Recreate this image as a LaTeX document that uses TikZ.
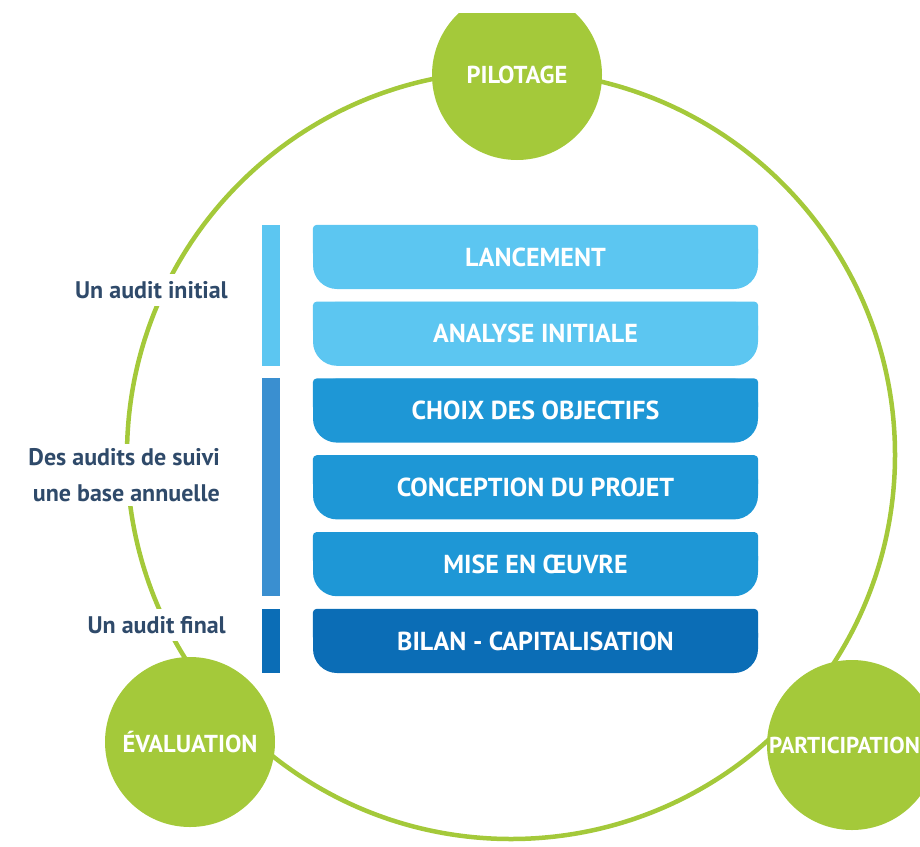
\documentclass[tikz,border=0pt]{standalone}
\usepackage{fontspec}
\setmainfont{PT Sans}
\usetikzlibrary{positioning,backgrounds}

\definecolor{ringgreen}{RGB}{164,201,58}
\definecolor{skyblue}{RGB}{92,198,241}
\definecolor{midblue}{RGB}{30,151,214}
\definecolor{barblue}{RGB}{58,143,208}
\definecolor{deepblue}{RGB}{11,109,182}
\definecolor{labelgray}{RGB}{47,74,106}

\begin{document}
\begin{tikzpicture}[x=1pt,y=-1pt,node distance=12.4pt,
    stage/.style={fill=#1,text=white,minimum width=445pt,minimum height=64pt,
                  rounded corners=24pt,font=\fontsize{26}{28}\selectfont\bfseries},
    pole/.style={circle,fill=ringgreen,minimum size=170pt,text=white,inner sep=0pt,
                 font=\fontsize{24.5}{26}\selectfont\bfseries},
    audit/.style={anchor=east,fill=white,text=labelgray,align=right,inner xsep=2pt,
                  font=\fontsize{24}{36}\selectfont\bfseries}]

  \useasboundingbox (0,0) rectangle (920,846);
  \clip (0,13) rectangle (920,846);

  % the cycle
  \draw[ringgreen,line width=4.5pt] (511,455) circle (384pt);

  \node[pole] (pil) at (517,75)  {PILOTAGE};
  \node[pole] (eva) at (190,742) {ÉVALUATION};
  \node[pole,font=\fontsize{23}{26}\selectfont\bfseries] (par) at (852,745)
       {\hspace*{-15pt}PARTICIPATION};

  % stages
  \node[stage=skyblue]  (lance) at (535.5,257) {LANCEMENT};
  \node[stage=skyblue]  (ana)  [below=of lance] {ANALYSE INITIALE};
  \node[stage=midblue]  (obj)  [below=of ana]   {CHOIX DES OBJECTIFS};
  \node[stage=midblue]  (conc) [below=of obj]   {CONCEPTION DU PROJET};
  \node[stage=midblue]  (mise) [below=of conc]  {MISE EN ŒUVRE};
  \node[stage=deepblue] (bil)  [below=of mise]  {BILAN - CAPITALISATION};

  \begin{scope}[on background layer]
    \foreach \n/\c in {lance/skyblue,ana/skyblue,obj/midblue,conc/midblue,
                       mise/midblue,bil/deepblue}
      \fill[\c,rounded corners=4pt] (\n.north west) rectangle (\n.east);
  \end{scope}

  % audit bars
  \fill[skyblue]  ([xshift=-51pt]lance.north west) rectangle ([xshift=-33pt]ana.south west);
  \fill[barblue]  ([xshift=-51pt]obj.north west) rectangle ([xshift=-33pt]mise.south west);
  \fill[deepblue] ([xshift=-51pt]bil.north west) rectangle ([xshift=-33pt]bil.south west);

  \node[audit,inner ysep=7pt] (ini) at (230,290) {Un audit initial};
  \node[audit,inner ysep=4pt] (sui) at (222,475) {Des audits de suivi\\une base annuelle};
  \node[audit,inner ysep=7pt] (fin) at (228,625) {Un audit final};
\end{tikzpicture}
\end{document}
